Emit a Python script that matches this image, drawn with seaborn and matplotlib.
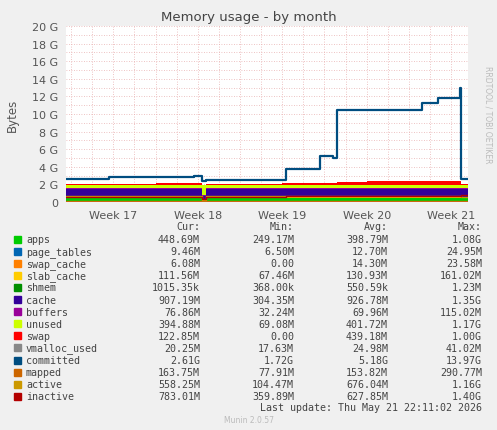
import numpy as np
import matplotlib
matplotlib.use("Agg")
import matplotlib.pyplot as plt
import seaborn as sns
import pandas as pd

sns.set_style("white")
plt.rcParams['font.family'] = ['DejaVu Sans']

# time in weeks
t = [16.44, 16.95, 17.5, 17.95, 18.05, 18.1, 18.6, 19.0, 19.05, 19.4, 19.45, 19.6, 19.65, 20.0, 20.3, 20.6, 20.65, 20.85, 21.05, 21.1, 21.12, 21.2]
# stacked areas (GB)
apps        = [0.40, 0.40, 0.42, 0.40, 0.30, 0.40, 0.40, 0.42, 0.40, 0.40, 0.40, 0.40, 0.40, 0.40, 0.40, 0.40, 0.40, 0.40, 0.40, 0.40, 0.45, 0.45]
page_tables = [0.01]*22
swap_cache  = [0.01, 0.01, 0.01, 0.01, 0.00, 0.01, 0.01, 0.01, 0.02, 0.02, 0.02, 0.02, 0.02, 0.02, 0.02, 0.02, 0.02, 0.02, 0.02, 0.02, 0.01, 0.01]
slab_cache  = [0.13, 0.13, 0.13, 0.13, 0.07, 0.13, 0.13, 0.13, 0.13, 0.13, 0.13, 0.13, 0.13, 0.13, 0.13, 0.13, 0.13, 0.13, 0.13, 0.13, 0.11, 0.11]
shmem       = [0.001]*22
cache       = [0.93, 0.93, 0.93, 0.93, 0.30, 0.95, 0.93, 0.93, 0.93, 0.93, 0.93, 0.93, 0.93, 0.93, 0.93, 0.93, 0.93, 0.93, 0.93, 0.93, 0.91, 0.91]
buffers     = [0.07]*22
unused      = [0.42, 0.42, 0.40, 0.40, 1.17, 0.40, 0.40, 0.40, 0.38, 0.38, 0.38, 0.38, 0.38, 0.38, 0.36, 0.36, 0.36, 0.36, 0.36, 0.36, 0.39, 0.39]
swap        = [0.10, 0.12, 0.20, 0.20, 0.00, 0.12, 0.15, 0.18, 0.20, 0.20, 0.22, 0.25, 0.35, 0.45, 0.50, 0.52, 0.52, 0.52, 0.52, 0.52, 0.12, 0.12]
# lines
vmalloc_used = [0.02]*22
committed   = [2.6, 2.8, 2.8, 2.9, 2.4, 2.5, 2.5, 2.5, 3.8, 3.8, 5.2, 5.0, 10.5, 10.5, 10.4, 10.5, 11.2, 11.8, 11.8, 13.0, 2.6, 2.6]
mapped      = [0.16, 0.16, 0.16, 0.16, 0.08, 0.16, 0.16, 0.16, 0.16, 0.16, 0.16, 0.16, 0.16, 0.16, 0.16, 0.16, 0.16, 0.16, 0.16, 0.16, 0.16, 0.16]
active      = [0.70, 0.68, 0.66, 0.70, 0.20, 0.65, 0.65, 0.66, 0.68, 0.68, 0.68, 0.68, 0.68, 0.68, 0.67, 0.68, 0.68, 0.68, 0.68, 0.68, 0.56, 0.56]
inactive    = [0.60, 0.62, 0.60, 0.60, 0.36, 0.60, 0.62, 0.62, 0.63, 0.63, 0.63, 0.63, 0.63, 0.63, 0.63, 0.63, 0.63, 0.63, 0.63, 0.63, 0.78, 0.78]

names = ["apps","page_tables","swap_cache","slab_cache","shmem","cache","buffers","unused","swap",
         "vmalloc_used","committed","mapped","active","inactive"]
colors = ["#00CC00","#0066B3","#FF8000","#FFCC00","#008F00","#330099","#990099","#CCFF00","#FF0000",
          "#888888","#004D80","#CC6600","#CC9900","#B30000"]
cur = ["448.69M","9.46M","6.08M","111.56M","1015.35k","907.19M","76.86M","394.88M","122.85M","20.25M","2.61G","163.75M","558.25M","783.01M"]
mn  = ["249.17M","6.50M","0.00","67.46M","368.00k","304.35M","32.24M","69.08M","0.00","17.63M","1.72G","77.91M","104.47M","359.89M"]
avg = ["398.79M","12.70M","14.30M","130.93M","550.59k","926.78M","69.96M","401.72M","439.18M","24.98M","5.18G","153.82M","676.04M","627.85M"]
mx  = ["1.08G","24.95M","23.58M","161.02M","1.23M","1.35G","115.02M","1.17G","1.00G","41.02M","13.97G","290.77M","1.16G","1.40G"]
yticks = [0, 2, 4, 6, 8, 10, 12, 14, 16, 18, 20]
ylabels = ["0"] + [f"{v} G" for v in yticks[1:]]
weeks = [17, 18, 19, 20, 21]

W, H = 497, 431
fig = plt.figure(figsize=(W/100, H/100), dpi=100, facecolor="#F0F0F0")
ax = fig.add_axes([66/W, 1-203/H, 402/W, 176/H])
ax.set_facecolor("white")

stack = [apps, page_tables, swap_cache, slab_cache, shmem, cache, buffers, unused, swap]
base = np.zeros(len(t))
for s, c in zip(stack, colors[:9]):
    top = base + np.array(s)
    ax.fill_between(t, base, top, step="post", color=c, lw=0)
    base = top
lines = [vmalloc_used, committed, mapped, active, inactive]
for s, n, c in zip(lines, names[9:], colors[9:]):
    df = pd.DataFrame({"t": t, "v": s})
    sns.lineplot(data=df, x="t", y="v", ax=ax, color=c, lw=1.6 if n == "committed" else 1.0,
                 drawstyle="steps-post", legend=False)

ax.set_xlim(16.44, 21.2)
ax.set_ylim(0, 20)
ax.set_yticks(yticks, ylabels)
ax.set_yticks(np.arange(0, 20, 1), minor=True)
ax.set_xticks(weeks, [f"Week {w}" for w in weeks])
ax.set_xticks(np.arange(16.5, 21.2, 0.25), minor=True)
ax.grid(True, which="both", color="#E8B0B0", ls=(0, (1, 2)), lw=0.6)
ax.tick_params(labelsize=8, colors="#555555", length=2)
for sp in ax.spines.values():
    sp.set_visible(False)
ax.axhline(0, color="#AAAAEE", lw=0.8)
ax.set_xlabel(""); ax.set_ylabel("")
fig.text(12/W, 1-115/H, "Bytes", rotation=90, ha="center", va="center", fontsize=8.5, color="#555555")

fig.text(0.5, 1-17/H, "Memory usage - by month", ha="center", va="center", fontsize=9.5, color="#444444")
fig.text(488/W, 1-115/H, "RRDTOOL / TOBI OETIKER", rotation=270, ha="center", va="center", fontsize=5.5, color="#BBBBBB")

mono = "DejaVu Sans Mono"
fs = 7.2
hy = 227
for x, lab in [(200, "Cur:"), (294, "Min:"), (388, "Avg:"), (482, "Max:")]:
    fig.text(x/W, 1-hy/H, lab, ha="right", va="center", family=mono, fontsize=fs, color="#444444")
for i, n in enumerate(names):
    y = 240 + i*12.1
    fig.patches.append(plt.Rectangle((14/W, 1-(y+3.5)/H), 7/W, 7/H, transform=fig.transFigure, color=colors[i], figure=fig))
    fig.text(26/W, 1-y/H, n, ha="left", va="center", family=mono, fontsize=fs, color="#444444")
    for x, col in [(200, cur), (294, mn), (388, avg), (482, mx)]:
        fig.text(x/W, 1-y/H, col[i], ha="right", va="center", family=mono, fontsize=fs, color="#444444")
fig.text(482/W, 1-408/H, "Last update: Thu May 21 22:11:02 2026", ha="right", va="center", family=mono, fontsize=fs, color="#444444")
fig.text(0.5, 1-421/H, "Munin 2.0.57", ha="center", va="center", fontsize=5.5, color="#BBBBBB")

fig.savefig("out.png", dpi=100, facecolor=fig.get_facecolor())
